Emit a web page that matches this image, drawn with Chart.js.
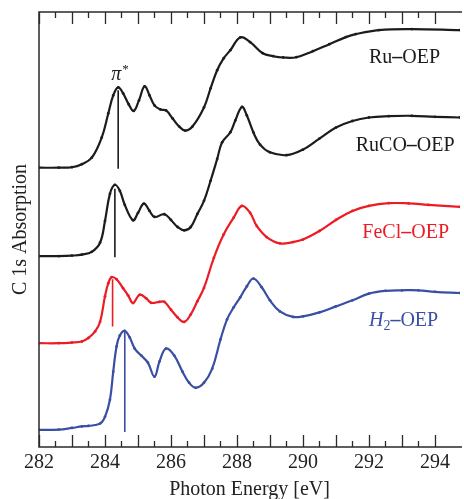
<!DOCTYPE html>
<html>
<head>
<meta charset="utf-8">
<script src="https://cdn.jsdelivr.net/npm/chart.js@4/dist/chart.umd.min.js"></script>
<style>
  html, body { margin: 0; padding: 0; background: #fff; overflow: hidden; }
  canvas { display: block; }
</style>
</head>
<body>
<canvas id="chart" width="464" height="499"></canvas>
<script>
// C 1s NEXAFS spectra, offsets stacked as in the figure

const ruE = [282.0, 282.6, 283.0, 283.3, 283.6, 283.9, 284.1, 284.25, 284.4, 284.55, 284.72, 284.87, 285.03, 285.2, 285.35, 285.5, 285.68, 285.85, 286.05, 286.25, 286.43, 286.65, 287.0, 287.2, 287.4, 287.6, 287.8, 288.1, 288.4, 288.78, 289.1, 289.4, 289.8, 290.3, 290.8, 291.3, 291.6, 292.3, 293.3, 294.76];
const ruY = [2.78, 2.78, 2.785, 2.815, 2.88, 3.08, 3.32, 3.50, 3.58, 3.52, 3.41, 3.345, 3.45, 3.59, 3.50, 3.40, 3.36, 3.35, 3.27, 3.19, 3.15, 3.19, 3.38, 3.57, 3.75, 3.87, 3.95, 4.077, 4.03, 3.92, 3.89, 3.877, 3.88, 3.94, 4.01, 4.08, 4.11, 4.15, 4.16, 4.15];

const rucoE = [282.0, 282.6, 283.0, 283.3, 283.6, 283.85, 284.0, 284.15, 284.3, 284.45, 284.6, 284.85, 285.0, 285.18, 285.35, 285.5, 285.8, 286.0, 286.2, 286.4, 286.6, 286.8, 287.0, 287.2, 287.4, 287.55, 287.8, 287.95, 288.15, 288.3, 288.5, 288.7, 289.0, 289.5, 290.0, 290.5, 291.0, 291.5, 292.0, 292.6, 293.3, 294.0, 294.76];
const rucoY = [1.90, 1.90, 1.905, 1.915, 1.943, 2.033, 2.25, 2.52, 2.61, 2.55, 2.41, 2.257, 2.33, 2.423, 2.35, 2.29, 2.317, 2.26, 2.19, 2.157, 2.19, 2.32, 2.45, 2.65, 2.867, 3.033, 3.133, 3.25, 3.385, 3.30, 3.13, 3.01, 2.933, 2.905, 2.96, 3.07, 3.18, 3.245, 3.28, 3.293, 3.297, 3.287, 3.28];

const feE = [282.0, 282.6, 283.0, 283.3, 283.5, 283.7, 283.85, 284.0, 284.1, 284.2, 284.35, 284.55, 284.7, 284.85, 285.05, 285.25, 285.4, 285.65, 285.8, 286.0, 286.2, 286.4, 286.6, 286.8, 287.0, 287.3, 287.6, 287.9, 288.15, 288.4, 288.6, 288.9, 289.3, 289.7, 290.0, 290.5, 291.0, 291.5, 292.0, 292.6, 293.2, 293.8, 294.76];
const feY = [1.033, 1.033, 1.04, 1.05, 1.085, 1.15, 1.245, 1.50, 1.63, 1.69, 1.67, 1.58, 1.51, 1.433, 1.515, 1.48, 1.435, 1.445, 1.445, 1.367, 1.29, 1.245, 1.32, 1.45, 1.583, 1.883, 2.117, 2.283, 2.40, 2.33, 2.20, 2.09, 2.027, 2.04, 2.065, 2.15, 2.26, 2.35, 2.40, 2.427, 2.425, 2.41, 2.39];

const h2E = [282.0, 282.6, 283.0, 283.3, 283.5, 283.85, 284.0, 284.15, 284.25, 284.35, 284.45, 284.6, 284.75, 284.9, 285.1, 285.3, 285.5, 285.65, 285.85, 286.1, 286.35, 286.55, 286.75, 287.0, 287.25, 287.5, 287.7, 287.9, 288.1, 288.3, 288.5, 288.75, 289.0, 289.3, 289.7, 290.0, 290.5, 291.0, 291.5, 292.0, 292.5, 293.0, 293.5, 294.0, 294.76];
const h2Y = [0.17, 0.173, 0.19, 0.205, 0.21, 0.233, 0.30, 0.47, 0.75, 1.00, 1.11, 1.155, 1.09, 0.98, 0.91, 0.84, 0.70, 0.85, 0.98, 0.91, 0.75, 0.64, 0.59, 0.64, 0.78, 1.07, 1.27, 1.39, 1.49, 1.60, 1.677, 1.59, 1.46, 1.35, 1.295, 1.30, 1.34, 1.40, 1.46, 1.527, 1.555, 1.56, 1.56, 1.545, 1.533];

// pi* resonance markers: energy, top, bottom
const piE = [284.4, 284.3, 284.23, 284.6];
const piTop = [3.55, 2.57, 1.67, 1.15];
const piBottom = [2.77, 1.89, 1.20, 0.15];

const xTickLabels = [282, 284, 286, 288, 290, 292, 294];

const BLACK = '#1c1c1c', RED = '#ec1c24', BLUE = '#3a4fa3';
const colors = [BLACK, BLACK, RED, BLUE];

const toPts = (xs, ys) => xs.map((x, i) => ({ x, y: ys[i] }));

const curves = [
  toPts(ruE, ruY), toPts(rucoE, rucoY), toPts(feE, feY), toPts(h2E, h2Y)
];

const datasets = curves.map((d, i) => ({
  data: d,
  borderColor: colors[i],
  backgroundColor: colors[i],
  borderWidth: 2.2,
  pointRadius: 1.4,
  pointBorderWidth: 0,
  tension: 0.4,
}));

piE.forEach((e, i) => {
  datasets.push({
    data: [{ x: e, y: piTop[i] }, { x: e, y: piBottom[i] }],
    borderColor: colors[i],
    borderWidth: 1.6,
    pointRadius: 0,
  });
});

// text annotations, anchored in data units (left, baseline)
const labels = [
  { parts: [['Ru', 0], ['–', 2], ['OEP', 0]], x: 292.0, y: 3.82, color: BLACK },
  { parts: [['RuCO', 0], ['–', 2], ['OEP', 0]], x: 291.6, y: 2.95, color: BLACK },
  { parts: [['FeCl', 0], ['–', 2], ['OEP', 0]], x: 291.8, y: 2.08, color: RED },
  { parts: [['H', 1], ['2', 3], ['–', 2], ['OEP', 0]], x: 292.0, y: 1.20, color: BLUE },
  { parts: [['π', 1], ['*', 4]], x: 284.19, y: 3.65, color: BLACK },
];

const SERIF = "'Liberation Serif', 'Times New Roman', serif";

const decor = {
  id: 'decor',
  afterDraw(chart) {
    const { ctx, chartArea: a, scales: { x, y } } = chart;
    ctx.save();
    ctx.strokeStyle = '#2a2a2a';
    ctx.lineWidth = 1.5;
    ctx.beginPath();
    ctx.moveTo(a.right + 2, a.top);
    ctx.lineTo(a.left, a.top);
    ctx.lineTo(a.left, a.bottom);
    ctx.lineTo(a.right + 2, a.bottom);
    ctx.stroke();

    ctx.lineWidth = 1.3;
    ctx.beginPath();
    x.ticks.forEach(t => {
      const v = t.value;
      if (Math.abs(v * 2 - Math.round(v * 2)) > 1e-6) return;
      const px = Math.round(x.getPixelForValue(v)) + 0.5;
      const len = Math.abs(v - Math.round(v)) < 1e-6 ? 12 : 6;
      ctx.moveTo(px, a.top); ctx.lineTo(px, a.top + len);
      ctx.moveTo(px, a.bottom); ctx.lineTo(px, a.bottom - len);
    });
    ctx.stroke();

    ctx.textBaseline = 'alphabetic';
    ctx.textAlign = 'left';
    labels.forEach(l => {
      let px = x.getPixelForValue(l.x);
      const py = y.getPixelForValue(l.y);
      ctx.fillStyle = l.color;
      l.parts.forEach(([txt, kind]) => {
        let font = '20px ' + SERIF, dy = 0;
        if (kind === 1) font = 'italic 20px ' + SERIF;
        if (kind === 2) font = 'bold 20px ' + SERIF;
        if (kind === 3) { font = '14px ' + SERIF; dy = 4; }
        if (kind === 4) { font = '13px ' + SERIF; dy = -7; px += 1; }
        ctx.font = font;
        ctx.fillText(txt, px, py + dy);
        px += ctx.measureText(txt).width;
      });
    });
    ctx.restore();
  }
};

Chart.defaults.font.family = SERIF;
Chart.defaults.color = '#222';

new Chart(document.getElementById('chart'), {
  type: 'line',
  data: { datasets },
  options: {
    responsive: false,
    animation: false,
    devicePixelRatio: 1,
    layout: { padding: { top: 12, right: 0, left: 0, bottom: 0 } },
    plugins: { legend: { display: false }, tooltip: { enabled: false } },
    scales: {
      x: {
        type: 'linear',
        min: 282,
        max: 294.76,
        grid: { display: false, drawTicks: false },
        border: { display: false },
        ticks: {
          stepSize: 0.5,
          maxTicksLimit: 100,
          autoSkip: false,
          maxRotation: 0,
          padding: 4,
          font: { size: 20 },
          color: '#222',
          callback: v => xTickLabels.includes(v) ? String(v) : ''
        },
        title: {
          display: true,
          text: 'Photon Energy [eV]',
          font: { size: 20 },
          color: '#222',
          padding: { top: -1, bottom: -3 }
        }
      },
      y: {
        min: 0,
        max: 4.33,
        grid: { display: false, drawTicks: false },
        border: { display: false },
        ticks: { display: false },
        title: {
          display: true,
          text: 'C 1s Absorption',
          font: { size: 20 },
          color: '#222',
          padding: { top: 9, bottom: 6 }
        }
      }
    }
  },
  plugins: [decor]
});
</script>
</body>
</html>
